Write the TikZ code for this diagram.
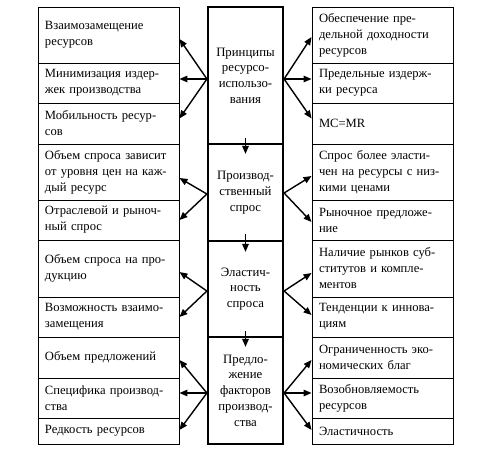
\documentclass[tikz,border=0pt]{standalone}
\usepackage{fontspec}
\setmainfont{Liberation Serif}
\usetikzlibrary{arrows.meta,calc}
\tikzset{
  sidebox/.style={draw, line width=0.9pt, inner xsep=7pt, inner ysep=0pt,
    text width=127pt, align=left, font=\fontsize{12.6}{16}\selectfont, anchor=center},
  midbox/.style={draw, line width=2.2pt, inner xsep=3pt, inner ysep=0pt,
    text width=69pt, align=center, font=\fontsize{12.8}{15.7}\selectfont, anchor=center},
  fan/.style={line width=1.4pt, -{Triangle[length=8pt,width=6.5pt]}},
}
\begin{document}
\begin{tikzpicture}[x=1pt,y=-1pt]
\useasboundingbox (0,0) rectangle (491,459);
% left column
\node[sidebox, minimum height=56pt] (l1) at (108.5,35) {Взаимозамещение\\ресурсов};
\node[sidebox, minimum height=40pt] (l2) at (108.5,83) {Минимизация издер-\\жек производства};
\node[sidebox, minimum height=41pt] (l3) at (108.5,123.5) {Мобильность ресур-\\сов};
\node[sidebox, minimum height=56pt] (l4) at (108.5,172) {Объем спроса зависит\\от уровня цен на каж-\\дый ресурс};
\node[sidebox, minimum height=40pt] (l5) at (108.5,220) {Отраслевой и рыноч-\\ный спрос};
\node[sidebox, minimum height=57pt] (l6) at (108.5,268.5) {Объем спроса на про-\\дукцию};
\node[sidebox, minimum height=40pt] (l7) at (108.5,317) {Возможность взаимо-\\замещения};
\node[sidebox, minimum height=41pt] (l8) at (108.5,357.5) {Объем предложений};
\node[sidebox, minimum height=40pt] (l9) at (108.5,398) {Специфика производ-\\ства};
\node[sidebox, minimum height=26pt] (l10) at (108.5,431) {Редкость ресурсов};
% right column
\node[sidebox, minimum height=56pt] (r1) at (382.5,35) {Обеспечение пре-\\дельной доходности\\ресурсов};
\node[sidebox, minimum height=40pt] (r2) at (382.5,83) {Предельные издерж-\\ки ресурса};
\node[sidebox, minimum height=41pt] (r3) at (382.5,123.5) {MC=MR};
\node[sidebox, minimum height=56pt] (r4) at (382.5,172) {Спрос более эласти-\\чен на ресурсы с низ-\\кими ценами};
\node[sidebox, minimum height=40pt] (r5) at (382.5,220) {Рыночное предложе-\\ние};
\node[sidebox, minimum height=57pt] (r6) at (382.5,268.5) {Наличие рынков суб-\\ститутов и компле-\\ментов};
\node[sidebox, minimum height=40pt] (r7) at (382.5,317) {Тенденции к иннова-\\циям};
\node[sidebox, minimum height=41pt] (r8) at (382.5,357.5) {Ограниченность эко-\\номических благ};
\node[sidebox, minimum height=40pt] (r9) at (382.5,398) {Возобновляемость\\ресурсов};
\node[sidebox, minimum height=26pt] (r10) at (382.5,431) {Эластичность};
% middle column
\node[midbox, minimum height=137pt] (m1) at (245.5,75.5) {Принципы\\ресурсо-\\использо-\\вания};
\node[midbox, minimum height=97pt] (m2) at (245.5,192.5) {Производ-\\ственный\\спрос};
\node[midbox, minimum height=96pt] (m3) at (245.5,289) {Эластич-\\ность\\спроса};
\node[midbox, minimum height=107pt] (m4) at (245.5,390.5) {Предло-\\жение\\факторов\\производ-\\ства};
% fan origins
\coordinate (a1) at ([yshift=-3.5pt]m1.west);
\coordinate (b1) at ([yshift=-3.5pt]m1.east);
\coordinate (a2) at ([yshift=-1.5pt]m2.west);
\coordinate (b2) at ([yshift=-0.5pt]m2.east);
\coordinate (a3) at ([yshift=-2pt]m3.west);
\coordinate (b3) at ([yshift=-2pt]m3.east);
\coordinate (a4) at ([yshift=-2.5pt]m4.west);
\coordinate (b4) at ([yshift=-2.5pt]m4.east);
% left fans
\draw[fan] (a1) -- ([yshift=-4pt]l1.east);
\draw[fan] (a1) -- ([yshift=4pt]l2.east);
\draw[fan] (a1) -- ([yshift=5pt]l3.east);
\draw[fan] (a2) -- ([yshift=-6pt]l4.east);
\draw[fan] (a2) -- (l5.east);
\draw[fan] (a3) -- ([yshift=-3.5pt]l6.east);
\draw[fan] (a3) -- (l7.east);
\draw[fan] (a4) -- ([yshift=-2.5pt]l8.east);
\draw[fan] (a4) -- ([yshift=5pt]l9.east);
\draw[fan] (a4) -- ([yshift=1pt]l10.east);
% right fans
\draw[fan] (b1) -- ([yshift=-2pt]r1.west);
\draw[fan] (b1) -- ([yshift=4pt]r2.west);
\draw[fan] (b1) -- ([yshift=5pt]r3.west);
\draw[fan] (b2) -- ([yshift=-4pt]r4.west);
\draw[fan] (b2) -- ([yshift=-2pt]r5.west);
\draw[fan] (b3) -- ([yshift=-4.5pt]r6.west);
\draw[fan] (b3) -- ([yshift=2pt]r7.west);
\draw[fan] (b4) -- ([yshift=-2.5pt]r8.west);
\draw[fan] (b4) -- ([yshift=5pt]r9.west);
\draw[fan] (b4) -- ([yshift=1pt]r10.west);
% down arrows
\draw[fan] ([yshift=7pt]m1.south) -- ([yshift=-11pt]m2.north);
\draw[fan] ([yshift=8pt]m2.south) -- ([yshift=-12pt]m3.north);
\draw[fan] ([yshift=7pt]m3.south) -- ([yshift=-11pt]m4.north);
\end{tikzpicture}
\end{document}
